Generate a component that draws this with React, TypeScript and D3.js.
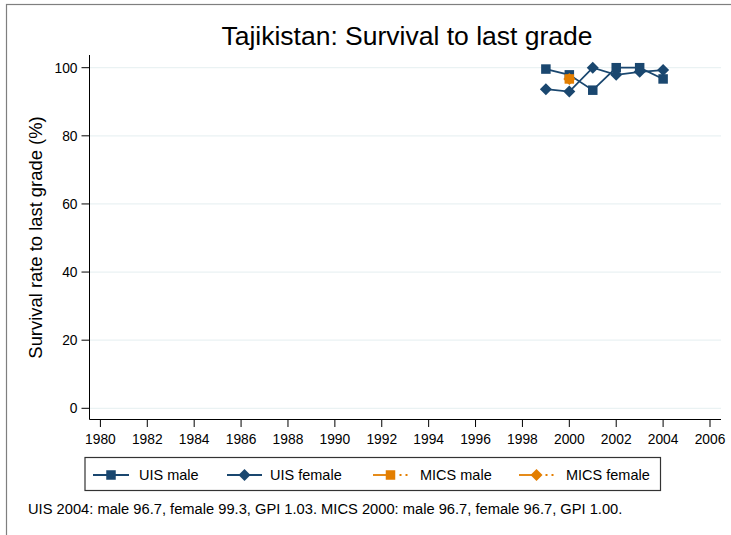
import React from "react";
import * as d3 from "d3";

const years = [1999, 2000, 2001, 2002, 2003, 2004];
const uisMale = [99.6, 97.9, 93.4, 100, 100, 96.7];
const uisFemale = [93.7, 93.0, 100, 97.9, 98.8, 99.3];
const micsYears = [2000];
const micsMale = [96.7];
const micsFemale = [96.7];
const xTicks = d3.range(1980, 2007, 2);
const yTicks = [0, 20, 40, 60, 80, 100];
const legendLabels = ["UIS male", "UIS female", "MICS male", "MICS female"];

const NAVY = "#1a476f";
const ORANGE = "#e37e00";
const FONT = "Liberation Sans, Arial, sans-serif";

function Square({ x, y, s, fill }: { x: number; y: number; s: number; fill: string }) {
  return <rect x={x - s / 2} y={y - s / 2} width={s} height={s} fill={fill} />;
}
function Diamond({ x, y, r, fill }: { x: number; y: number; r: number; fill: string }) {
  return <path d={`M${x},${y - r}L${x + r},${y}L${x},${y + r}L${x - r},${y}Z`} fill={fill} />;
}

export default function App() {
  const x = d3.scaleLinear().domain([1980, 2006]).range([100.4, 710]);
  const y = d3.scaleLinear().domain([0, 100]).range([408.3, 67.7]);
  const line = d3
    .line<number>()
    .x((_, i) => x(years[i]))
    .y((d) => y(d));
  const plotL = 89.5, plotR = 721, plotT = 55, plotB = 419.5;
  const legY = 475;
  const keys = [
    { x0: 93, x1: 129, label: 139, color: NAVY, shape: "sq", dash: false },
    { x0: 227, x1: 262, label: 270, color: NAVY, shape: "di", dash: false },
    { x0: 373, x1: 408, label: 420, color: ORANGE, shape: "sq", dash: true },
    { x0: 519, x1: 554, label: 566, color: ORANGE, shape: "di", dash: true },
  ];
  return (
    <svg width={731} height={535} style={{ position: "absolute", left: 0, top: 0, background: "#fff" }} fontFamily={FONT}>
      <rect x={0} y={0} width={731} height={535} fill="#fff" />
      <rect x={6.5} y={4.5} width={800} height={600} fill="none" stroke="#7f7f7f" strokeWidth={1.2} />
      <text x={407} y={45} textAnchor="middle" fontSize={26.5} fill="#000">
        Tajikistan: Survival to last grade
      </text>
      {yTicks.map((t) => (
        <g key={t}>
          <line x1={plotL} x2={plotR} y1={y(t)} y2={y(t)} stroke="#eaf2f3" strokeWidth={1.2} />
          <line x1={81.5} x2={plotL} y1={y(t)} y2={y(t)} stroke="#000" />
          <text x={77.5} y={y(t)} dy="0.35em" textAnchor="end" fontSize={13.8}>
            {t}
          </text>
        </g>
      ))}
      <line x1={plotL} x2={plotL} y1={plotT} y2={plotB} stroke="#000" />
      <line x1={plotL} x2={plotR} y1={plotB} y2={plotB} stroke="#000" />
      {xTicks.map((t) => (
        <g key={t}>
          <line x1={x(t)} x2={x(t)} y1={plotB} y2={427} stroke="#000" />
          <text x={x(t)} y={444.3} textAnchor="middle" fontSize={13.8}>
            {t}
          </text>
        </g>
      ))}
      <text transform={`translate(41.5,237.5) rotate(-90)`} textAnchor="middle" fontSize={18.4}>
        Survival rate to last grade (%)
      </text>
      <path d={line(uisMale) || ""} fill="none" stroke={NAVY} strokeWidth={1.8} />
      <path d={line(uisFemale) || ""} fill="none" stroke={NAVY} strokeWidth={1.8} />
      {uisMale.map((v, i) => (
        <Square key={"m" + i} x={x(years[i])} y={y(v)} s={9.5} fill={NAVY} />
      ))}
      {uisFemale.map((v, i) => (
        <Diamond key={"f" + i} x={x(years[i])} y={y(v)} r={6} fill={NAVY} />
      ))}
      {micsMale.map((v, i) => (
        <Square key={"mm" + i} x={x(micsYears[i])} y={y(v)} s={9.5} fill={ORANGE} />
      ))}
      {micsFemale.map((v, i) => (
        <Diamond key={"mf" + i} x={x(micsYears[i])} y={y(v)} r={6} fill={ORANGE} />
      ))}
      <rect x={85} y={457.5} width={575.5} height={33} fill="#fff" stroke="#333" strokeWidth={1.2} />
      {keys.map((k, i) => {
        const cx = (k.x0 + k.x1) / 2;
        return (
          <g key={i}>
            {k.dash ? (
              <>
                <line x1={k.x0} x2={cx} y1={legY} y2={legY} stroke={k.color} strokeWidth={1.8} />
                <line x1={cx + 5} x2={k.x1} y1={legY} y2={legY} stroke={k.color} strokeWidth={1.8} strokeDasharray="0,4,2,4,2,20" />
              </>
            ) : (
              <line x1={k.x0} x2={k.x1} y1={legY} y2={legY} stroke={k.color} strokeWidth={1.8} />
            )}
            {k.shape === "sq" ? (
              <Square x={cx} y={legY} s={9.5} fill={k.color} />
            ) : (
              <Diamond x={cx} y={legY} r={6} fill={k.color} />
            )}
            <text x={k.label} y={legY} dy="0.36em" fontSize={14.5}>
              {legendLabels[i]}
            </text>
          </g>
        );
      })}
      <text x={28} y={509} dy="0.35em" fontSize={14.7}>
        UIS 2004: male 96.7, female 99.3, GPI 1.03. MICS 2000: male 96.7, female 96.7, GPI 1.00.
      </text>
    </svg>
  );
}
